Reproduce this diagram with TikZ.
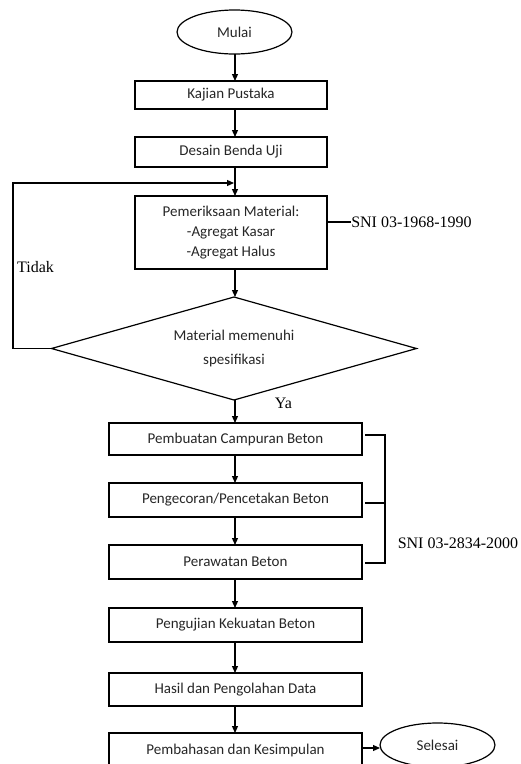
\documentclass[tikz,border=0pt]{standalone}
\usepackage{fontspec}
\setmainfont{Carlito}
\newfontfamily\seriffont{Liberation Serif}
\usetikzlibrary{shapes.geometric,arrows.meta}
\begin{document}
\begin{tikzpicture}[x=1pt,y=-1pt,
  line width=1.2pt,
  box/.style={draw, rectangle, inner sep=0pt, outer sep=0pt, align=center, text=black!85,
     font=\fontsize{15}{20}\selectfont},
  smallbox/.style={box, minimum width=192pt},
  bigbox/.style={box, minimum width=253pt},
  term/.style={draw, ellipse, inner sep=0pt, outer sep=0pt, minimum width=115pt, minimum height=44pt,
     text=black!85, font=\fontsize{15}{20}\selectfont},
  dia/.style={draw, diamond, aspect=3.54, inner sep=0pt, outer sep=0pt, minimum width=365pt, minimum height=103pt,
     align=center, text=black!85, font=\fontsize{15}{24}\selectfont},
  lbl/.style={inner sep=0pt, font=\seriffont\fontsize{16}{18}\selectfont},
  arr/.style={-{Triangle[length=7pt,width=6pt]}}
]
\useasboundingbox (0,0) rectangle (521,764);
\coordinate (ax) at (235,0);

\node[term] (mulai) at (234.5,32) {Mulai};
\node[smallbox, minimum height=28pt] (kp) at (231,95) {Kajian Pustaka};
\node[smallbox, minimum height=30pt] (db) at (231,152) {Desain Benda Uji};
\node[smallbox, minimum height=73pt] (pm) at (231,232.5) {Pemeriksaan Material:\\-Agregat Kasar\\-Agregat Halus};
\node[dia] (dm) at (234,348.5) {Material memenuhi\\spesifikasi};
\node[bigbox, minimum height=32pt] (pcb) at (235.5,439) {Pembuatan Campuran Beton};
\node[bigbox, minimum height=34pt] (pgc) at (235.5,500) {Pengecoran/Pencetakan Beton};
\node[bigbox, minimum height=34pt] (prw) at (235.5,562) {Perawatan Beton};
\node[bigbox, minimum height=34pt] (puj) at (235.5,625) {Pengujian Kekuatan Beton};
\node[bigbox, minimum height=33pt] (hsl) at (235.5,689.5) {Hasil dan Pengolahan Data};
\node[bigbox, minimum height=35pt] (pk) at (235.5,750.5) {Pembahasan dan Kesimpulan};
\node[term] (sel) at (437.5,745) {Selesai};

% labels
\node[lbl] (sni1) at (411.5,222) {SNI 03-1968-1990};
\node[lbl] (sni2) at (458,543) {SNI 03-2834-2000};
\node[lbl] (tidak) at (35.5,267) {Tidak};
\node[lbl] (ya) at (283.5,403) {Ya};

% main flow
\draw[arr] (mulai.south -| ax) -- (kp.north -| ax);
\draw[arr] (kp.south -| ax) -- (db.north -| ax);
\draw[arr] (db.south -| ax) -- (pm.north -| ax);
\draw[arr] (pm.south -| ax) -- (dm.north -| ax);
\draw[arr] (dm.south -| ax) -- (pcb.north -| ax);
\draw[arr] (pcb.south -| ax) -- (pgc.north -| ax);
\draw[arr] (pgc.south -| ax) -- (prw.north -| ax);
\draw[arr] (prw.south -| ax) -- (puj.north -| ax);
\draw[arr] (puj.south -| ax) -- (hsl.north -| ax);
\draw[arr] (hsl.south -| ax) -- (pk.north -| ax);
\coordinate (pkr) at (362,748);
\draw[arr] (pkr) -- (pkr -| sel.west);

% feedback loop
\coordinate (tl) at (13,183);
\coordinate (fj) at (234,183);
\draw[arr] (dm.west) -| (tl) -- (fj);

% SNI 1 connector
\coordinate (s1) at (327,222);
\draw (s1) -- (sni1.west);

% bracket
\coordinate (b1) at (365,435);
\coordinate (b2) at (365,503);
\coordinate (b3) at (365,563);
\coordinate (bx) at (385,0);
\draw (b1) -- (b1 -| bx) -- (b3 -| bx) -- (b3);
\draw (b2) -- (b2 -| bx);
\end{tikzpicture}
\end{document}
